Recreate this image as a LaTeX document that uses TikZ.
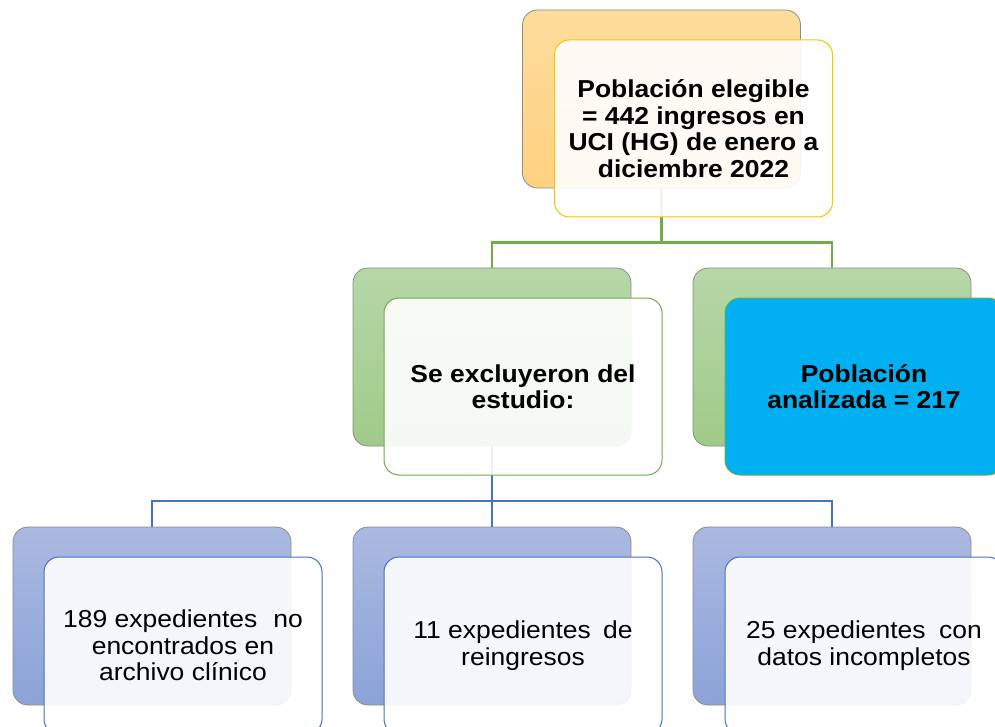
\documentclass[tikz,border=0pt]{standalone}
\usepackage{fontspec}
\setmainfont{Liberation Sans}[FakeStretch=1.08]
\definecolor{orTop}{HTML}{FDDC9C}
\definecolor{orBot}{HTML}{FFD280}
\definecolor{orLine}{HTML}{FFC000}
\definecolor{grTop}{HTML}{B6D7A8}
\definecolor{grBot}{HTML}{A0CA89}
\definecolor{grLine}{HTML}{70AD47}
\definecolor{blTop}{HTML}{AAB9E0}
\definecolor{blBot}{HTML}{8CA3D8}
\definecolor{blLine}{HTML}{4472C4}
\definecolor{cyanBox}{HTML}{00B0F0}
\begin{document}
\begin{tikzpicture}[x=1pt,y=-1pt,
  box/.style={rectangle, rounded corners=15pt, inner sep=0pt, outer sep=0pt,
    minimum width=278pt, minimum height=178pt, align=center,
    font=\fontsize{24.5}{26.5}\selectfont},
  backbox/.style={box, draw=black!45, line width=0.8pt},
  backor/.style={backbox, top color=orTop, bottom color=orBot},
  backgr/.style={backbox, top color=grTop, bottom color=grBot},
  backbl/.style={backbox, top color=blTop, bottom color=blBot},
  frontbox/.style={box, minimum height=177pt, fill=white, fill opacity=0.9, text opacity=1, line width=1pt},
  boldtext/.style={font=\fontsize{24.5}{26.5}\selectfont\bfseries},
  connG/.style={draw=grLine, line width=2.2pt},
  connB/.style={draw=blLine, line width=2.2pt}]
\useasboundingbox (0,0) rectangle (995,727);
\clip (0,0) rectangle (995,727);
% coordinates of junctions
\coordinate (gj) at (0,242.5);
\coordinate (bj) at (0,501);
% back boxes
\node[backor] (backTop) at (661.5,99) {};
\node[backgr] (backL2) at (492,357) {};
\node[backgr] (backR2) at (832,357) {};
\node[backbl] (backB1) at (152,616) {};
\node[backbl] (backB2) at (492,616) {};
\node[backbl] (backB3) at (832,616) {};
% connectors
\draw[connG] (backTop.south) -- (backTop.south |- gj) -| (backL2.north);
\draw[connG] (backTop.south |- gj) -| (backR2.north);
\draw[connB] (backL2.south) -- (backL2.south |- bj) -| (backB1.north);
\draw[connB] (backL2.south |- bj) -| (backB3.north);
\draw[connB] (backL2.south |- bj) -- (backB2.north);
% front boxes
\node[frontbox, draw=orLine, boldtext] (frontTop) at (693.5,128.5)
  {Población elegible\\= 442 ingresos en\\UCI (HG) de enero a\\diciembre 2022};
\node[frontbox, draw=grLine, boldtext] (frontL2) at (523,386.5)
  {Se excluyeron del\\estudio:};
\node[box, minimum height=177pt, fill=cyanBox, draw=grLine, line width=1pt, boldtext] (frontR2) at (864,386.5)
  {Población\\analizada = 217};
\node[frontbox, draw=blLine] (frontB1) at (183,645.5)
  {189 expedientes\hspace{0.35em} no\\encontrados en\\archivo clínico};
\node[frontbox, draw=blLine] (frontB2) at (523,645.5)
  {11 expedientes\hspace{0.2em} de\\reingresos};
\node[frontbox, draw=blLine] (frontB3) at (864,645.5)
  {25 expedientes\hspace{0.25em} con\\datos incompletos};
\end{tikzpicture}
\end{document}
